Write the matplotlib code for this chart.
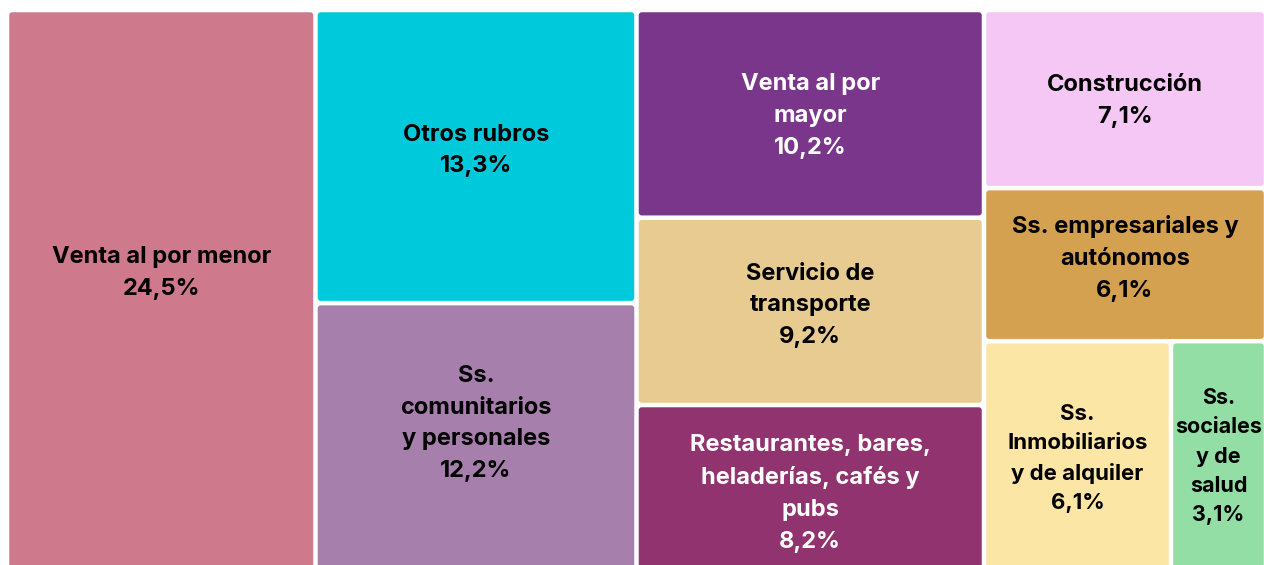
import matplotlib.pyplot as plt
from matplotlib.patches import FancyBboxPatch

# datos del treemap (porcentaje por rubro)
etiquetas = ["Venta al por menor", "Otros rubros", "Ss.\ncomunitarios\ny personales",
             "Venta al por\nmayor", "Servicio de\ntransporte",
             "Restaurantes, bares,\nheladerías, cafés y\npubs",
             "Construcción", "Ss. empresariales y\nautónomos",
             "Ss.\nInmobiliarios\ny de alquiler", "Ss.\nsociales\ny de\nsalud"]
valores = [24.5, 13.3, 12.2, 10.2, 9.2, 8.2, 7.1, 6.1, 6.1, 3.1]
colores = ["#CE798C", "#00C9DC", "#A67FAD", "#7A368B", "#E8CB90",
           "#91336E", "#F4C7F4", "#D4A150", "#FCE6A6", "#93DEA5"]
txt_col = ["black", "black", "black", "white", "black",
           "white", "black", "black", "black", "black"]

# agrupacion en columnas (indices); la ultima columna tiene una fila con dos cajas
columnas = [[[0]], [[1], [2]], [[3], [4], [5]], [[6], [7], [8, 9]]]

# ajustes finos de la etiqueta (desplazamiento vertical en px, tamaño)
dy = [-18, -6, -14, 2, -6, 5, 2, -6, 2, 0]
tam = [17, 17, 17, 17, 17, 17, 17, 17, 16, 15.5]

W, H = 1264, 565
x0, x1, y0, y1 = 7, 1266, 10, 572
gap = 4.5

fig = plt.figure(figsize=(W / 100, H / 100), dpi=100)
ax = fig.add_axes([0, 0, 1, 1])
ax.set_xlim(0, W)
ax.set_ylim(H, 0)
ax.axis("off")

total = sum(valores)
cx = x0
for col in columnas:
    s_col = sum(valores[i] for fila in col for i in fila)
    w = (x1 - x0) * s_col / total
    cy = y0
    for fila in col:
        s_fila = sum(valores[i] for i in fila)
        h = (y1 - y0) * s_fila / s_col
        rx = cx
        for i in fila:
            ww = w * valores[i] / s_fila
            r = FancyBboxPatch((rx + gap / 2, cy + gap / 2), ww - gap, h - gap,
                               boxstyle="round,pad=0,rounding_size=3",
                               fc=colores[i], ec="none")
            ax.add_patch(r)
            pct = f"{valores[i]:.1f}%".replace(".", ",")
            ax.text(rx + ww / 2, cy + h / 2 + dy[i], etiquetas[i] + "\n" + pct,
                    ha="center", va="center", color=txt_col[i],
                    fontsize=tam[i], fontweight="bold", family=["Inter", "DejaVu Sans"],
                    linespacing=1.58)
            rx += ww
        cy += h
    cx += w

fig.savefig("out.png", dpi=100, facecolor="white")
